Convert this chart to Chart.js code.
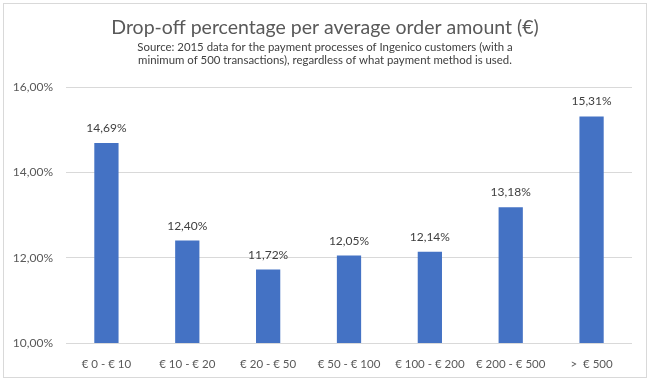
<!DOCTYPE html>
<html>
<head>
<meta charset="utf-8">
<script src="https://cdn.jsdelivr.net/npm/chart.js@4"></script>
<style>
  html, body { margin: 0; padding: 0; background: #fff; }
  #wrap { position: relative; width: 650px; height: 380px; }
  #frame { position: absolute; left: 3px; top: 3px; width: 644px; height: 375px; border: 1px solid #d9d9d9; box-sizing: border-box; pointer-events: none; }
  canvas { position: absolute; left: 0; top: 0; }
</style>
</head>
<body>
<div id="wrap">
  <canvas id="c" width="650" height="380"></canvas>
  <div id="frame"></div>
</div>
<script>
const categories = ['€ 0 - € 10', '€ 10 - € 20', '€ 20 - € 50', '€ 50 - € 100', '€ 100 - € 200', '€ 200 - € 500', '>  € 500'];
const dropOff = [14.69, 12.40, 11.72, 12.05, 12.14, 13.18, 15.31];
const yTicks = [10, 12, 14, 16];

const fmt = v => v.toFixed(2).replace('.', ',') + '%';
const FONT = 'Lato, "Open Sans", sans-serif';
const GREY = '#595959';

const labelPlugin = {
  id: 'valueLabels',
  afterDatasetsDraw(chart) {
    const ctx = chart.ctx;
    const meta = chart.getDatasetMeta(0);
    ctx.save();
    ctx.font = '12px ' + FONT;
    ctx.fillStyle = '#404040';
    ctx.textAlign = 'center';
    ctx.textBaseline = 'alphabetic';
    meta.data.forEach((bar, i) => {
      ctx.fillText(fmt(dropOff[i]), bar.x, bar.y - 11);
    });
    ctx.restore();
  }
};

new Chart(document.getElementById('c'), {
  type: 'bar',
  data: {
    labels: categories,
    datasets: [{
      data: dropOff,
      backgroundColor: '#4472C4',
      barPercentage: 1,
      categoryPercentage: 0.3,
      yAxisID: 'y'
    }]
  },
  options: {
    responsive: false,
    animation: false,
    layout: { padding: 0 },
    plugins: {
      legend: { display: false },
      tooltip: { enabled: false },
      title: {
        display: true,
        text: 'Drop-off percentage per average order amount (€)',
        color: GREY,
        font: { family: FONT, size: 19.5, weight: 'normal', lineHeight: 1.2 },
        padding: { top: 16, bottom: 1 }
      },
      subtitle: {
        display: true,
        text: ['Source: 2015 data for the payment processes of Ingenico customers (with a',
               'minimum of 500 transactions), regardless of what payment method is used.'],
        color: '#404040',
        font: { family: FONT, size: 11.4, weight: 'normal', lineHeight: '13px' },
        padding: { top: 0, bottom: 20.6 }
      }
    },
    scales: {
      x: {
        afterFit(scale) { scale.height = 37; },
        grid: { display: false },
        border: { display: false },
        ticks: { color: GREY, font: { family: FONT, size: 11.5 }, padding: 6, maxRotation: 0, autoSkip: false }
      },
      y: {
        min: 10, max: 16,
        afterFit(scale) { scale.width = 66; },
        afterBuildTicks(scale) { scale.ticks = yTicks.map(v => ({ value: v })); },
        grid: { color: '#d9d9d9', drawTicks: false },
        border: { display: false },
        ticks: { color: GREY, font: { family: FONT, size: 12 }, padding: 13, callback: v => fmt(v) }
      },
      yRightSpace: {
        position: 'right',
        min: 10, max: 16,
        afterFit(scale) { scale.width = 18; },
        grid: { display: false, drawOnChartArea: false },
        border: { display: false },
        ticks: { display: false }
      }
    }
  },
  plugins: [labelPlugin]
});
</script>
</body>
</html>
